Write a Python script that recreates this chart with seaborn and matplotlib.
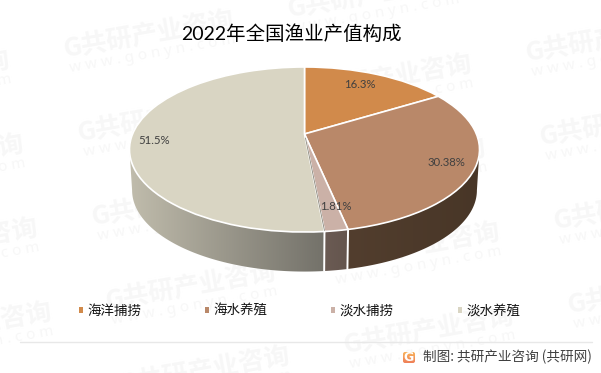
import numpy as np
import matplotlib
matplotlib.use('Agg')
import matplotlib.pyplot as plt
import seaborn as sns
from matplotlib.patches import FancyBboxPatch, Patch, Polygon
from matplotlib.transforms import Transform

categories = ['海洋捕捞', '海水养殖', '淡水捕捞', '淡水养殖']
values = [16.3, 30.38, 1.81, 51.5]
top_colors = ['#d18a4b', '#b98869', '#cbb1a7', '#d9d5c3']
wall_colors = [('#523e2e', '#483627'), ('#523e2e', '#483627'), ('#6b5b53', '#64554e'), ('#c0bcac', '#74726a')]
wall_range = [(348, 479), (348, 479), (324, 348), (130, 323)]
label_pos = [(360, 85), (446, 162), (336, 207), (154.5, 141)]

sns.set_theme(style='white')
plt.rcParams['font.family'] = ['Noto Sans CJK SC', 'DejaVu Sans']
label_font = ['Lato', 'Noto Sans CJK SC']

# 透视参数 (像素)
CX, CY = 304.5, 134
A, C, D = 79.6, -0.188, 171.9
DROP, SHRINK = 41, 0.985


def project(u, y, low=False):
    v = -np.asarray(y)
    w = 1 + C * v
    px, py = D * np.asarray(u) / w, A * v / w
    if low:
        return CX + px * SHRINK, CY + py * SHRINK + DROP
    return CX + px, CY + py


class DiskTransform(Transform):
    input_dims = 2
    output_dims = 2

    def transform_non_affine(self, xy):
        px, py = project(xy[:, 0], xy[:, 1])
        return np.column_stack([px, py])


fig = plt.figure(figsize=(6.01, 3.73), dpi=100)
ax = fig.add_axes([0, 0, 1, 1])

# 水印
for i in range(-2, 6):
    for j in range(-2, 5):
        x0 = 65 + 14 * i + 224 * j
        y0 = 57 + 84 * i - 40 * j
        if x0 < -185 or x0 > 595 or y0 < -5 or y0 > 415:
            continue
        ax.text(x0, y0, 'G共研产业咨询', fontsize=18.5, fontweight='bold', color='#f7f7f7',
                rotation=10, rotation_mode='anchor', ha='left', va='baseline', zorder=0, clip_on=True)
        ax.text(x0 + 5, y0 + 15, 'w w w . g o n y n . c o m', fontsize=11, color='#f7f7f7',
                family=['Noto Sans'], rotation=10, rotation_mode='anchor', ha='left', va='baseline',
                zorder=0, clip_on=True)

wedges, _ = ax.pie(values, colors=top_colors, startangle=90, counterclock=False,
                   wedgeprops=dict(edgecolor='white', linewidth=1.2, zorder=3))
for w in wedges:
    w.set_transform(DiskTransform() + ax.transData)
    w.set_clip_on(False)

# 侧面: 渐变图按扇形外沿裁剪, 只取朝前的一段 (切点在 sin = C)
for w, pair, (xa, xb) in zip(wedges, wall_colors, wall_range):
    th = np.radians(np.linspace(w.theta1, w.theta2, 400))
    th = th[np.sin(th) <= C]
    if len(th) < 2:
        continue
    cmap = sns.blend_palette(list(pair), as_cmap=True)
    tx, ty = project(np.cos(th), np.sin(th))
    bx, by = project(np.cos(th), np.sin(th), low=True)
    outline = np.column_stack([np.r_[tx, bx[::-1]], np.r_[ty, by[::-1]]])
    face = Polygon(outline, closed=True, fc='none', ec='none', transform=ax.transData)
    ax.add_patch(face)
    ramp = np.clip((np.arange(601) + 0.5 - xa) / (xb - xa), 0, 1).reshape(1, -1)
    im = ax.imshow(ramp, cmap=cmap, vmin=0, vmax=1, extent=(0, 601, 373, 0), aspect='auto', zorder=1)
    im.set_clip_path(face)

# 侧面分隔线
for w in wedges[1:3]:
    a = np.radians(w.theta1)
    tx, ty = project(np.cos(a), np.sin(a))
    bx, by = project(np.cos(a), np.sin(a), low=True)
    ax.plot([tx, bx], [ty, by], color='white', lw=1.4, zorder=2)

# 淡水捕捞左侧的细暗线
a = np.radians(wedges[2].theta1)
tx, ty = project(np.cos(a), np.sin(a))
ax.plot([CX + 1, tx], [CY + 4, ty - 1], color='#8a877b', lw=0.6, zorder=3.5)

for v, (lx, ly) in zip(values, label_pos):
    ax.text(lx, ly, f'{v}%', fontsize=8.2, color='#404040', family=label_font,
            ha='center', va='center', zorder=4)

ax.text(291, 34, '2022年全国渔业产值构成', fontsize=14, color='black', family=label_font,
        ha='center', va='center', zorder=4)

handles = [Patch(facecolor=c, edgecolor='none') for c in top_colors]
ax.legend(handles, categories, ncol=4, loc='center', bbox_to_anchor=(299.5 / 601, 1 - 311 / 373),
          frameon=False, fontsize=9.7, handlelength=0.3, handleheight=0.3, handletextpad=0.34,
          columnspacing=4.72, borderpad=0, labelcolor='#111111')

ax.plot([20, 592], [342, 342], color='#e8e8e8', lw=1, zorder=1)
ax.text(592, 357, '制图: 共研产业咨询 (共研网)', fontsize=9.8, color='#404040', ha='right', va='center', zorder=4)

# 标志
box = FancyBboxPatch((403, 352), 12, 11, boxstyle='round,pad=0,rounding_size=2', fc='none', ec='none',
                     transform=ax.transData)
ax.add_patch(box)
grad = np.linspace(0, 1, 32).reshape(-1, 1)
cmap = sns.blend_palette(['#f9b75c', '#ee7b58'], as_cmap=True)
im = ax.imshow(grad, cmap=cmap, extent=(402, 416, 364, 351), aspect='auto', zorder=3)
im.set_clip_path(box)
ax.text(409, 357.5, 'G', fontsize=9, fontweight='bold', color='white', family=['DejaVu Sans'],
        ha='center', va='center', zorder=4)

ax.set_aspect('auto')
ax.set_xlim(0, 601)
ax.set_ylim(373, 0)
ax.axis('off')

fig.savefig('out.png', dpi=100)
